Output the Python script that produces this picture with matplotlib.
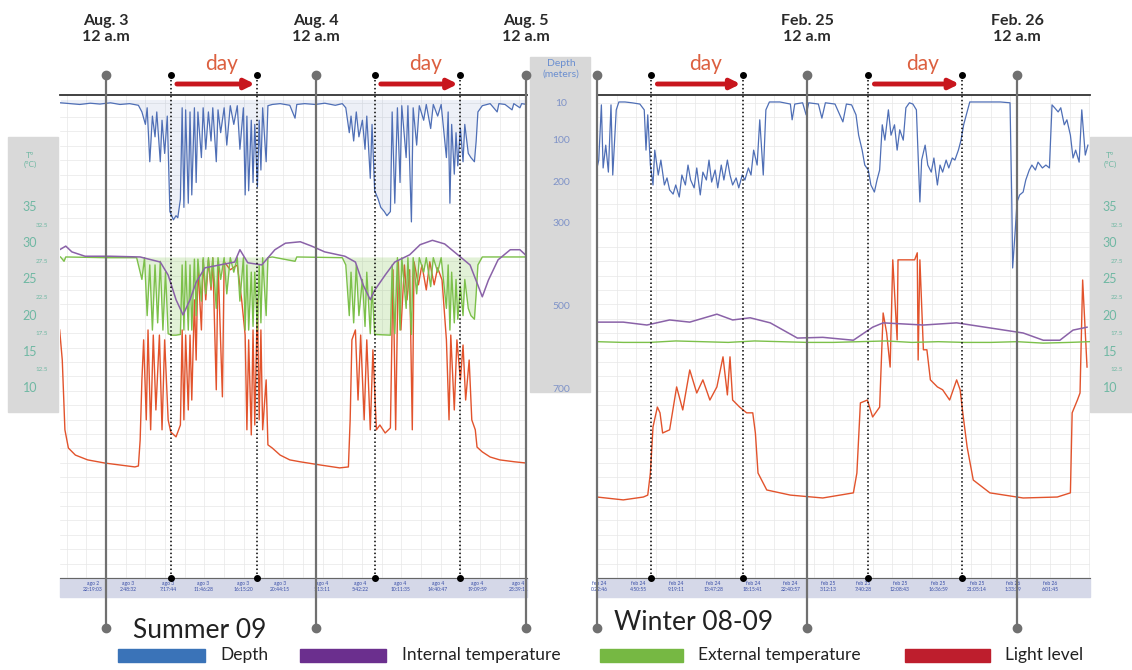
import numpy as np
import matplotlib
matplotlib.use("Agg")
import matplotlib.pyplot as plt
import matplotlib.transforms as mtransforms
from matplotlib.patches import Rectangle
from matplotlib.ticker import MultipleLocator

plt.rcParams['font.family'] = ['Lato', 'DejaVu Sans']

# ---------------- data (hours from first midnight) ----------------
# Summer 09: hours from Aug 3 12 a.m.
summer_depth = [
    (-5.2, 8), (-4.1, 10), (-3.0, 12), (-1.8, 9), (-0.7, 11), (0.5, 8), (1.6, 12), (2.7, 10), (3.7, 14), (4.1, 30),
    (4.5, 60), (4.7, 20), (5.0, 150), (5.3, 40), (5.6, 90), (5.8, 30), (6.2, 150), (6.4, 50), (6.7, 130), (7.0, 40),
    (7.3, 270), (7.7, 290), (8.0, 280), (8.2, 285), (8.5, 240), (8.7, 20), (8.9, 260), (9.1, 25), (9.4, 250), (9.6, 30),
    (9.8, 230), (10.1, 20), (10.3, 200), (10.5, 30), (10.9, 140), (11.1, 20), (11.4, 120), (11.7, 30), (12.0, 100), (12.2, 20),
    (12.6, 150), (12.8, 25), (13.1, 80), (13.5, 20), (13.8, 110), (14.2, 15), (14.6, 60), (15.0, 15), (15.3, 120), (15.7, 20),
    (15.9, 230), (16.1, 40), (16.3, 220), (16.6, 50), (16.8, 200), (17.0, 60), (17.3, 210), (17.5, 50), (17.7, 170), (17.9, 20),
    (18.3, 150), (18.5, 15), (19.0, 12), (19.9, 10), (21.0, 14), (21.6, 45), (21.8, 12), (22.7, 10), (23.9, 12), (25.0, 9),
    (26.2, 14), (27.0, 10), (27.4, 20), (27.8, 80), (28.0, 40), (28.3, 100), (28.6, 30), (28.9, 90), (29.3, 50), (29.6, 120),
    (29.8, 40), (30.2, 190), (30.4, 60), (30.7, 220), (31.1, 240), (31.4, 260), (31.8, 270), (32.1, 280), (32.5, 270), (32.7, 30),
    (33.0, 250), (33.3, 20), (33.6, 200), (33.8, 15), (34.3, 140), (34.5, 15), (34.9, 295), (35.1, 20), (35.5, 110), (35.8, 15),
    (36.3, 50), (36.6, 12), (37.1, 70), (37.4, 12), (37.9, 40), (38.3, 12), (38.9, 140), (39.1, 30), (39.3, 250), (39.5, 60),
    (39.8, 180), (40.0, 80), (40.2, 160), (40.5, 70), (40.8, 150), (41.0, 60), (41.4, 130), (41.7, 140), (42.1, 150), (42.3, 100),
    (42.5, 30), (43.0, 15), (43.9, 10), (44.7, 30), (44.9, 10), (45.6, 12), (46.4, 25), (46.6, 10), (47.3, 20), (47.5, 10),
    (48.1, 12),
]

summer_internal = [
    (-5.3, 29.1), (-4.6, 29.6), (-3.9, 28.8), (-2.4, 28.2), (0.5, 28.2), (3.9, 28.1), (6.2, 27.4), (7.1, 25.6),
    (8.0, 22.2), (8.8, 20.1), (9.6, 22.2), (10.3, 24.6), (11.3, 26.6), (13.0, 27.0), (14.7, 27.4), (15.3, 29.1),
    (16.2, 27.3), (17.8, 27.0), (19.3, 29.1), (20.5, 30.0), (22.2, 30.2), (23.5, 29.6), (25.0, 28.8), (27.3, 28.2),
    (28.5, 27.4), (29.4, 24.2), (30.2, 22.2), (30.7, 23.5), (31.9, 25.6), (33.0, 27.4), (34.7, 28.4), (35.9, 29.8),
    (37.3, 30.4), (38.7, 29.9), (40.2, 28.4), (41.6, 27.0), (42.5, 24.2), (43.0, 22.6), (43.7, 24.9), (44.8, 27.7),
    (46.2, 29.1), (47.3, 29.1), (48.1, 28.2),
]

summer_external = [
    (-5.2, 28.1), (-4.8, 27.5), (-4.6, 28.1), (0.0, 28.0), (3.5, 28.0), (4.1, 25.0), (4.4, 28.0), (4.7, 20.0),
    (5.0, 27.0), (5.3, 18.0), (5.6, 27.0), (5.9, 19.0), (6.2, 27.5), (6.5, 18.0), (6.8, 26.0), (7.1, 17.5),
    (7.5, 17.3), (8.0, 17.3), (8.5, 17.4), (8.7, 27.0), (8.9, 18.0), (9.1, 27.5), (9.4, 18.0), (9.6, 27.0),
    (9.8, 18.0), (10.1, 27.8), (10.3, 20.0), (10.5, 27.8), (10.9, 22.0), (11.1, 28.0), (11.4, 23.0), (11.7, 28.0),
    (12.0, 24.0), (12.2, 28.0), (12.6, 21.0), (12.8, 28.0), (13.1, 25.0), (13.5, 28.0), (13.8, 23.0), (14.2, 28.0),
    (14.6, 26.0), (15.0, 28.0), (15.3, 22.0), (15.7, 28.0), (15.9, 18.0), (16.1, 27.0), (16.3, 18.0), (16.6, 26.0),
    (16.8, 18.5), (17.0, 26.0), (17.3, 18.0), (17.5, 27.0), (17.7, 19.0), (17.9, 28.0), (18.3, 20.0), (18.5, 28.0),
    (19.0, 28.1), (21.6, 27.5), (21.8, 28.1), (27.0, 28.0), (27.4, 27.0), (27.8, 20.0), (28.0, 26.0), (28.3, 19.0),
    (28.6, 27.0), (28.9, 20.0), (29.3, 25.0), (29.6, 18.5), (29.8, 26.0), (30.2, 17.5), (30.4, 24.0), (30.7, 17.4),
    (32.5, 17.3), (32.7, 27.0), (33.0, 17.5), (33.3, 28.0), (33.6, 18.0), (33.8, 28.0), (34.3, 21.0), (34.5, 28.0),
    (34.9, 17.4), (35.1, 28.0), (35.5, 23.0), (35.8, 28.0), (36.3, 26.0), (36.6, 28.0), (37.1, 24.0), (37.4, 28.0),
    (37.9, 26.0), (38.3, 28.0), (38.9, 21.0), (39.1, 27.0), (39.3, 18.0), (39.5, 26.0), (39.8, 19.0), (40.0, 25.0),
    (40.2, 19.5), (40.5, 24.0), (40.8, 20.0), (41.0, 25.0), (41.4, 21.0), (41.7, 20.0), (42.1, 19.5), (42.3, 23.0),
    (42.5, 27.0), (43.0, 28.1), (48.1, 28.1),
]

summer_light = [
    (-5.3, 77.5), (-5.0, 68.1), (-4.7, 46.3), (-4.3, 40.6), (-3.5, 38.4), (-2.1, 36.9), (-0.1, 35.9), (1.6, 35.3),
    (3.3, 34.7), (3.7, 35.0), (3.9, 43.1), (4.1, 61.9), (4.3, 74.4), (4.6, 49.4), (4.8, 77.5), (5.1, 46.3),
    (5.4, 75.9), (5.7, 52.5), (6.1, 75.9), (6.4, 46.3), (6.7, 74.4), (7.1, 49.4), (7.4, 45.6), (8.0, 44.1),
    (8.5, 47.8), (8.7, 77.5), (8.9, 49.4), (9.1, 75.9), (9.4, 52.5), (9.6, 75.9), (9.8, 55.6), (10.1, 86.9),
    (10.3, 68.1), (10.5, 97.8), (10.9, 77.5), (11.1, 99.4), (11.4, 86.9), (11.7, 99.4), (12.0, 90.0), (12.2, 100.0),
    (12.6, 58.8), (12.8, 98.8), (13.3, 56.6), (13.5, 98.8), (14.2, 96.3), (15.0, 97.8), (15.5, 86.9), (15.9, 75.9),
    (16.1, 46.3), (16.3, 74.4), (16.6, 44.7), (16.8, 77.5), (17.0, 47.8), (17.3, 86.9), (17.5, 49.4), (17.7, 77.5),
    (17.9, 46.3), (18.3, 61.9), (18.5, 41.6), (19.0, 40.6), (19.9, 38.4), (21.0, 36.9), (22.2, 36.3), (24.5, 35.3),
    (26.7, 34.4), (27.7, 34.7), (27.9, 49.4), (28.1, 74.4), (28.5, 77.5), (28.8, 55.6), (29.1, 75.9), (29.5, 49.4),
    (29.8, 74.4), (30.2, 46.3), (30.5, 71.3), (30.9, 46.3), (31.3, 47.8), (31.9, 45.3), (32.5, 46.9), (32.8, 96.3),
    (33.1, 46.3), (33.4, 98.8), (33.7, 77.5), (34.1, 97.8), (34.4, 86.9), (34.7, 96.3), (35.0, 46.3), (35.2, 98.8),
    (35.7, 91.6), (36.1, 97.8), (36.6, 90.0), (37.0, 98.8), (37.5, 91.6), (37.9, 96.9), (38.4, 93.1), (38.9, 74.4),
    (39.2, 49.4), (39.4, 75.9), (39.8, 52.5), (40.1, 74.4), (40.5, 61.9), (40.8, 72.8), (41.1, 55.6), (41.5, 68.1),
    (41.8, 49.4), (42.2, 46.3), (42.4, 40.9), (43.0, 39.4), (43.9, 37.8), (45.0, 36.9), (46.7, 36.3), (48.1, 35.9),
]

# Winter 08-09: hours from Feb 24 12 a.m.
winter_depth = [
    (0.0, 165), (0.2, 146), (0.5, 13), (0.7, 165), (1.0, 110), (1.3, 175), (1.6, 13), (1.8, 182), (2.2, 25), (2.5, 6),
    (3.2, 6), (4.0, 8), (4.9, 11), (5.4, 25), (5.6, 122), (5.8, 37), (6.1, 158), (6.4, 206), (6.6, 122), (7.0, 182),
    (7.3, 146), (7.7, 206), (8.0, 189), (8.3, 218), (8.7, 228), (9.0, 206), (9.4, 235), (9.7, 182), (10.1, 206), (10.4, 158),
    (10.7, 194), (11.1, 213), (11.4, 165), (11.8, 230), (12.1, 175), (12.5, 194), (12.8, 146), (13.1, 199), (13.5, 170), (13.8, 213),
    (14.2, 158), (14.5, 194), (14.9, 146), (15.2, 182), (15.5, 206), (15.9, 189), (16.2, 213), (16.6, 182), (16.9, 194), (17.3, 165),
    (17.6, 182), (17.9, 122), (18.3, 158), (18.6, 49), (19.0, 182), (19.3, 25), (19.7, 6), (20.9, 6), (22.1, 11), (22.3, 49),
    (22.6, 11), (23.5, 8), (23.9, 37), (24.2, 8), (25.3, 11), (25.7, 45), (26.1, 8), (27.2, 11), (28.1, 54), (28.5, 11),
    (29.1, 13), (29.6, 37), (29.9, 86), (30.3, 122), (30.6, 158), (31.0, 170), (31.3, 206), (31.7, 223), (32.0, 194), (32.3, 170),
    (32.6, 61), (32.9, 98), (33.3, 25), (33.6, 86), (34.0, 61), (34.3, 122), (34.6, 73), (35.0, 98), (35.3, 20), (35.7, 8),
    (36.1, 11), (36.5, 25), (36.7, 134), (36.9, 247), (37.1, 146), (37.5, 110), (37.8, 158), (38.2, 175), (38.5, 141), (38.9, 206),
    (39.2, 158), (39.5, 175), (39.9, 146), (40.2, 165), (40.6, 141), (40.9, 146), (41.3, 122), (41.6, 98), (41.9, 61), (42.3, 30),
    (42.6, 6), (46.1, 6), (47.2, 8), (47.4, 242), (47.5, 406), (47.8, 314), (48.0, 247), (48.3, 230), (48.7, 223), (49.0, 194),
    (49.4, 170), (49.7, 158), (50.1, 170), (50.4, 151), (50.9, 165), (51.3, 158), (51.7, 165), (52.0, 13), (52.3, 20), (52.7, 30),
    (53.0, 20), (53.4, 61), (53.7, 49), (54.1, 86), (54.4, 141), (54.7, 122), (55.1, 151), (55.4, 25), (55.8, 134), (56.1, 110),
]

winter_internal = [
    (0.0, 19.1), (3.0, 19.1), (5.7, 18.7), (8.3, 19.4), (10.6, 19.1), (13.7, 20.2), (15.5, 19.4), (17.5, 19.7),
    (19.8, 19.0), (22.9, 16.9), (25.8, 17.0), (29.3, 16.6), (31.5, 18.4), (32.7, 19.0), (37.3, 18.7), (41.1, 19.0),
    (44.9, 18.3), (48.7, 17.6), (51.0, 16.6), (52.9, 16.6), (54.4, 18.0), (56.0, 18.4),
]

winter_external = [
    (0, 16.4), (3, 16.3), (6, 16.3), (9, 16.5), (12, 16.4), (15, 16.3), (18, 16.5), (21, 16.4), (24, 16.3), (27, 16.3),
    (30, 16.4), (33, 16.5), (36, 16.3), (39, 16.4), (42, 16.3), (45, 16.3), (48, 16.4), (51, 16.2), (54, 16.3), (56.3, 16.4),
]

winter_light = [
    (0.0, 25.3), (3.0, 24.4), (5.3, 25.3), (5.8, 25.9), (6.1, 32.8), (6.4, 47.2), (6.9, 53.4), (7.2, 51.6), (7.5, 45.3), (8.3, 46.3),
    (9.1, 59.7), (9.8, 52.5), (10.6, 65.0), (11.4, 57.8), (12.1, 61.9), (12.9, 55.6), (13.7, 59.7), (14.4, 69.1), (14.9, 57.2), (15.2, 69.1),
    (15.5, 55.6), (16.3, 53.4), (17.1, 51.6), (17.8, 51.6), (18.1, 45.3), (18.4, 32.8), (19.4, 27.5), (22.1, 25.9), (25.8, 25.0), (29.3, 26.6),
    (29.7, 32.8), (30.1, 54.7), (30.9, 55.6), (31.5, 50.3), (32.3, 53.4), (32.7, 82.8), (33.1, 76.6), (33.5, 65.9), (33.8, 99.4), (34.3, 74.4),
    (34.4, 99.4), (35.8, 99.4), (36.3, 99.4), (36.6, 101.6), (36.7, 68.1), (36.9, 99.4), (37.3, 71.3), (37.7, 71.3), (38.1, 61.9), (38.9, 59.7),
    (39.5, 58.8), (40.3, 55.6), (41.1, 61.9), (41.5, 58.8), (41.8, 51.6), (42.3, 40.9), (43.0, 30.6), (44.9, 26.6), (48.7, 25.0), (52.6, 25.3),
    (54.1, 26.6), (54.3, 51.6), (54.9, 55.6), (55.2, 57.8), (55.5, 93.1), (56.0, 65.9),
]

# midnights and day start/end (hours)
summer_midnights = [0, 24, 48]
winter_midnights = [0, 24, 48]
summer_days = [(7.4, 17.3), (30.7, 40.5)]
winter_days = [(6.2, 16.7), (31.0, 41.7)]
summer_dates = ["Aug. 3\n12 a.m", "Aug. 4\n12 a.m", "Aug. 5\n12 a.m"]
winter_dates = ["", "Feb. 25\n12 a.m", "Feb. 26\n12 a.m"]

summer_tick_hours = [-1.5, 2.5, 7.1, 11.1, 15.7, 19.9, 24.7, 29.0, 33.6, 37.9, 42.4, 47.1]
summer_tick_labels = ["ago 2\n22:19:03", "ago 3\n2:48:32", "ago 3\n7:17:44", "ago 3\n11:46:28",
                      "ago 3\n16:15:20", "ago 3\n20:44:15", "ago 4\n1:13:11", "ago 4\n5:42:22",
                      "ago 4\n10:11:35", "ago 4\n14:40:47", "ago 4\n19:09:59", "ago 4\n23:39:11"]
winter_tick_hours = [0.3, 4.7, 9.1, 13.3, 17.8, 22.1, 26.4, 30.4, 34.6, 39.0, 43.4, 47.5, 51.8]
winter_tick_labels = ["feb 24\n0:22:46", "feb 24\n4:50:55", "feb 24\n9:19:11", "feb 24\n13:47:28",
                      "feb 24\n18:15:41", "feb 24\n22:40:57", "feb 25\n3:12:13", "feb 25\n7:40:28",
                      "feb 25\n12:08:43", "feb 25\n16:36:59", "feb 25\n21:05:14", "feb 26\n1:33:29",
                      "feb 26\n6:01:45"]

depth_ticks = [10, 100, 200, 300, 500, 700]
temp_major = [35, 30, 25, 20, 15, 10]
temp_minor = [32.5, 27.5, 22.5, 17.5, 12.5]

# colours
C_DEPTH = '#4f6fb6'
C_INT = '#8a62a8'
C_EXT = '#7cc04a'
C_LIGHT = '#e2532c'

# ---------------- figure ----------------
W, H = 1132, 670
fig = plt.figure(figsize=(W / 100, H / 100), dpi=100)


def fx(x):
    return x / W


def fy(y):
    return 1 - y / H


TOP, BOT = 95, 578
PANEL_H = BOT - TOP
STRIP = 19 / PANEL_H
DEPTH_LIM = (1153, -10.8)
TEMP_LIM = (-16.24, 50.47)
LIGHT_LIM = (0, 150.9)


def make_panel(x0, x1, xlim, ticks, labels):
    ax = fig.add_axes([fx(x0), fy(BOT), fx(x1 - x0), PANEL_H / H])
    ax.set_xlim(xlim)
    ax.set_ylim(LIGHT_LIM)
    ax.set_yticks(np.arange(0, 151, 4.5))
    ax.set_xticks(ticks)
    ax.set_xticklabels(labels, fontsize=3.6, color='#3a4fa8', linespacing=1.2)
    ax.xaxis.set_minor_locator(MultipleLocator(2.25))
    ax.grid(axis='y', color='#e8e8e8', lw=0.5)
    ax.grid(axis='x', which='minor', color='#e8e8e8', lw=0.5)
    ax.spines['left'].set_visible(False)
    ax.spines['right'].set_visible(False)
    ax.spines['top'].set_color('#333333')
    ax.spines['top'].set_linewidth(1.3)
    ax.spines['bottom'].set_color('#666666')
    ax.spines['bottom'].set_linewidth(0.8)
    ax.add_patch(Rectangle((0, -STRIP), 1, STRIP, transform=ax.transAxes,
                           color='#d5d8e8', clip_on=False, zorder=0))
    axt = ax.twinx()
    axt.set_ylim(TEMP_LIM)
    axt.axis('off')
    axd = ax.twinx()
    axd.set_ylim(DEPTH_LIM)
    axd.axis('off')
    # twinx turns the left ticks back on, so hide them afterwards
    ax.tick_params(axis='y', which='both', left=False, right=False, labelleft=False,
                   labelright=False, length=0, width=0)
    ax.tick_params(axis='x', which='both', length=0, width=0, pad=2.5)
    return ax, axt, axd


def draw_series(ax, axt, axd, depth, internal, external, light, haze):
    h, v = zip(*light)
    ax.plot(h, v, color=C_LIGHT, lw=1.0)
    h, v = zip(*external)
    if haze:
        axt.fill_between(h, v, 28.1, color=C_EXT, alpha=0.22, lw=0)
    axt.plot(h, v, color=C_EXT, lw=1.0)
    h, v = zip(*internal)
    axt.plot(h, v, color=C_INT, lw=1.1)
    h, v = zip(*depth)
    if haze:
        axd.fill_between(h, 0, v, color=C_DEPTH, alpha=0.10, lw=0)
    axd.plot(h, v, color=C_DEPTH, lw=0.9)


def draw_marks(ax, axd, midnights, days, dates):
    tr = axd.get_xaxis_transform()
    top = (BOT - 75) / PANEL_H
    bottom = (BOT - 628) / PANEL_H
    for m, lab in zip(midnights, dates):
        axd.plot([m, m], [bottom, top], color='#707070', lw=1.6, marker='o', ms=6,
                 transform=tr, clip_on=False, zorder=10)
        if lab:
            axd.text(m, (BOT - 29) / PANEL_H, lab, transform=tr, ha='center', va='center',
                     fontsize=11.5, fontweight='bold', color='#2a2a2a', linespacing=1.25)
    for a, b in days:
        for t in (a, b):
            axd.plot([t, t], [0, top], color='black', lw=1.1, ls=(0, (1, 1.6)), marker='o', ms=4,
                     transform=tr, clip_on=False, zorder=10)
        y_arrow = (BOT - 84) / PANEL_H
        axd.annotate('', xy=(b - 0.3, y_arrow), xytext=(a + 0.7, y_arrow), xycoords=tr,
                     arrowprops=dict(arrowstyle='-|>', color='#c8161d', lw=3.5, mutation_scale=14,
                                     shrinkA=0, shrinkB=0), annotation_clip=False)
        axd.text((a + b) / 2 + 0.9, (BOT - 64) / PANEL_H, 'day', transform=tr, ha='center', va='center',
                 fontsize=15, color='#dc6040')


axS, axS_t, axS_d = make_panel(60, 527, (-5.26, 48.11), summer_tick_hours, summer_tick_labels)
axW, axW_t, axW_d = make_panel(597, 1090, (0, 56.34), winter_tick_hours, winter_tick_labels)

draw_series(axS, axS_t, axS_d, summer_depth, summer_internal, summer_external, summer_light, True)
draw_series(axW, axW_t, axW_d, winter_depth, winter_internal, winter_external, winter_light, False)

draw_marks(axS, axS_d, summer_midnights, summer_days, summer_dates)
draw_marks(axW, axW_d, winter_midnights, winter_days, winter_dates)

# ---------------- side scale boxes ----------------
fig.add_artist(Rectangle((fx(530), fy(392)), fx(60), (392 - 57) / H, transform=fig.transFigure,
                         color='#d8d8d8', zorder=0))
fig.add_artist(Rectangle((fx(8), fy(412)), fx(50), (412 - 137) / H, transform=fig.transFigure,
                         color='#d9d9d9', zorder=0))
fig.add_artist(Rectangle((fx(1090), fy(412)), fx(42), (412 - 137) / H, transform=fig.transFigure,
                         color='#d9d9d9', zorder=0))

fig.text(fx(561), fy(69), 'Depth\n(meters)', ha='center', va='center', fontsize=7.5,
         color='#6b8fd0', linespacing=1.2)
tr_depth = mtransforms.blended_transform_factory(fig.transFigure, axS_d.transData)
for d in depth_ticks:
    fig.text(fx(561), d, str(d), transform=tr_depth, ha='center', va='center',
             fontsize=7.5, color='#7f93c8')

for xc, xm, axt in [(30, 42, axS_t), (1110, 1117, axW_t)]:
    tr_temp = mtransforms.blended_transform_factory(fig.transFigure, axt.transData)
    fig.text(fx(xc), fy(160), 'Tº\n(ºC)', ha='center', va='center', fontsize=6,
             color='#6fb8a3', linespacing=1.3)
    for t in temp_major:
        fig.text(fx(xc), t, str(t), transform=tr_temp, ha='center', va='center',
                 fontsize=9, color='#6fb8a3')
    for t in temp_minor:
        fig.text(fx(xm), t, str(t), transform=tr_temp, ha='center', va='center',
                 fontsize=4.5, color='#6fb8a3')

# ---------------- season titles and legend ----------------
fig.text(fx(133), fy(630), 'Summer 09', fontsize=19, va='center', ha='left', color='#222222')
fig.text(fx(614), fy(622), 'Winter 08-09', fontsize=19, va='center', ha='left', color='#222222')

legend_items = [('Depth', '#3a73b8', 118, 205, 220),
                ('Internal temperature', '#6b2f8e', 300, 386, 402),
                ('External temperature', '#76b843', 600, 683, 698),
                ('Light level', '#be1e2d', 905, 990, 1005)]
for name, col, p0, p1, tx in legend_items:
    fig.add_artist(Rectangle((fx(p0), fy(662)), fx(p1 - p0), 13 / H, transform=fig.transFigure,
                             color=col))
    fig.text(fx(tx), fy(655), name, fontsize=12.5, va='center', ha='left', color='#222222')

fig.savefig('out.png', dpi=100)
